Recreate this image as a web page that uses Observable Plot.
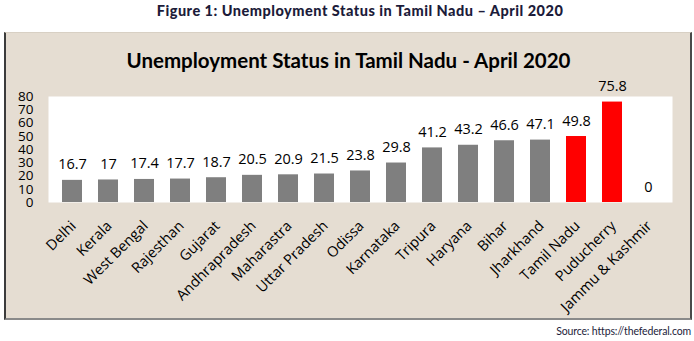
<!DOCTYPE html>
<html>
<head>
<meta charset="utf-8">
<script src="https://cdn.jsdelivr.net/npm/d3@7"></script>
<script src="https://cdn.jsdelivr.net/npm/@observablehq/plot@0.6"></script>
<style>
  html, body { margin: 0; padding: 0; background: #ffffff; }
  #page { position: relative; width: 694px; height: 341px; overflow: hidden; font-family: "Open Sans", sans-serif; }
  #caption { position: absolute; left: 0; top: 2px; width: 720px; text-align: center; font-family: "Lato", sans-serif; font-weight: 900; font-size: 14.5px; letter-spacing: 0.5px; color: #1c1c3a; }
  #box { position: absolute; left: 4px; top: 32px; width: 684px; height: 285px; background: #e5ddd2; border-left: 2px solid #3c3c3c; border-right: 2px solid #4a4a4a; border-bottom: 2px solid #8a8a8a; border-top: 1px solid #d8d0c4; }
  #title { position: absolute; left: 0; top: 48px; width: 697px; text-align: center; font-family: "Lato", sans-serif; font-weight: 700; font-size: 20.5px; color: #000; }
  #chart { position: absolute; left: 0; top: 0; }
  #source { position: absolute; right: 3px; top: 325px; font-family: "Lato", sans-serif; font-size: 10.5px; letter-spacing: -0.15px; color: #1c1c3a; }
</style>
</head>
<body>
<div id="page">
  <div id="caption">Figure 1: Unemployment Status in Tamil Nadu – April 2020</div>
  <div id="box"></div>
  <div id="title">Unemployment Status in Tamil Nadu - April 2020</div>
  <div id="chart"></div>
  <div id="source">Source: https://thefederal.com</div>
</div>
<script>
const states = ["Delhi", "Kerala", "West Bengal", "Rajesthan", "Gujarat", "Andhrapradesh", "Maharastra", "Uttar Pradesh", "Odissa", "Karnataka", "Tripura", "Haryana", "Bihar", "Jharkhand", "Tamil Nadu", "Puducherry", "Jammu & Kashmir"];
const rates = [16.7, 17, 17.4, 17.7, 18.7, 20.5, 20.9, 21.5, 23.8, 29.8, 41.2, 43.2, 46.6, 47.1, 49.8, 75.8, 0];
const highlighted = ["Tamil Nadu", "Puducherry"];
const yTicks = [0, 10, 20, 30, 40, 50, 60, 70, 80];

const data = states.map((s, i) => ({state: s, rate: rates[i], hi: highlighted.includes(s)}));

const chart = Plot.plot({
  width: 694,
  height: 320,
  marginLeft: 48,
  marginRight: 22,
  marginTop: 96,
  marginBottom: 118,
  style: {background: "transparent", fontFamily: "Open Sans, sans-serif", color: "#000", overflow: "visible"},
  x: {domain: states, paddingInner: 0.45, paddingOuter: 0.225, label: null},
  y: {domain: [0, 80], ticks: yTicks, label: null},
  marks: [
    Plot.frame({fill: "#ffffff", stroke: null}),
    Plot.barY(data, {x: "state", y: "rate", fill: d => d.hi ? "#ff0000" : "#7f7f7f"}),
    Plot.text(data, {x: "state", y: "rate", text: d => String(d.rate), lineAnchor: "bottom", dy: -11, fontSize: 14.5, fill: "#000"}),
    Plot.axisY({ticks: yTicks, tickSize: 0, tickPadding: 15, fontSize: 13.5, fill: "#000", label: null}),
    Plot.axisX({tickRotate: -45, tickSize: 0, tickPadding: 21, dx: 1, fontSize: 14.5, fill: "#000", label: null})
  ]
});
document.getElementById("chart").appendChild(chart);
</script>
</body>
</html>
